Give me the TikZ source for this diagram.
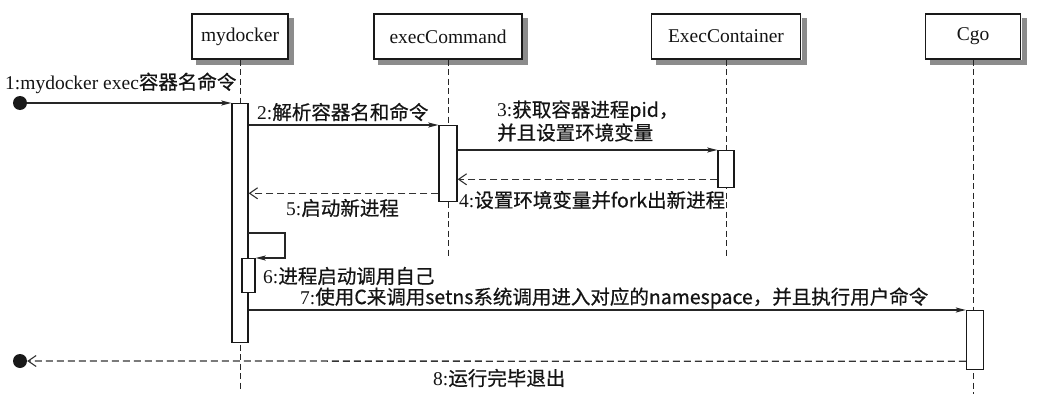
\documentclass[tikz,border=0pt]{standalone}
\usepackage{fontspec}
\setmainfont{Liberation Serif}
\newfontfamily\cjk[FakeBold=0.6]{Noto Sans CJK SC}
\usetikzlibrary{arrows.meta}
\newcommand\msgtxt[2]{#1:{\cjk #2}}
\begin{document}
\begin{tikzpicture}[x=1pt,y=-1pt,
  font=\fontsize{19.5}{23}\selectfont,
  every node/.append style={text=black!92},
  actor/.style={draw=black!90, line width=1.3pt, fill=white, minimum height=45pt, inner sep=0pt},
  boxshadow/.style={draw=black!45, line width=5pt, miter limit=10},
  life/.style={draw=black!85, line width=1pt, dash pattern=on 6pt off 3.5pt},
  act/.style={draw=black!90, line width=1.3pt, fill=white, minimum width=16pt, inner sep=0pt, anchor=north},
  msg/.style={draw=black!85, line width=1.3pt, -{Stealth[length=10pt,width=5pt,inset=2pt]}},
  ret/.style={draw=black!80, line width=1.3pt, dash pattern=on 7pt off 4pt, -{Straight Barb[length=8pt,width=11pt,line width=1.1pt]}},
  dot/.style={circle, fill=black!90, minimum size=14pt, inner sep=0pt},
  lab/.style={anchor=west, inner sep=0pt}
]
\useasboundingbox (0,0) rectangle (1050,412);

% actors
\node[actor, minimum width=96pt] (b1) at (240,36.5) {mydocker};
\node[actor, minimum width=148pt] (b2) at (448,36.5) {execCommand};
\node[actor, minimum width=149pt] (b3) at (726,36.5) {ExecContainer};
\node[actor, minimum width=95pt] (b4) at (973,36.5) {Cgo};

% shadows: right and bottom strips of each actor box
\draw[boxshadow] ([xshift=3.2pt,yshift=-5pt]b1.north east) |- ([xshift=5pt,yshift=-3.2pt]b1.south west);
\draw[boxshadow] ([xshift=3.2pt,yshift=-5pt]b2.north east) |- ([xshift=5pt,yshift=-3.2pt]b2.south west);
\draw[boxshadow] ([xshift=3.2pt,yshift=-5pt]b3.north east) |- ([xshift=5pt,yshift=-3.2pt]b3.south west);
\draw[boxshadow] ([xshift=3.2pt,yshift=-5pt]b4.north east) |- ([xshift=5pt,yshift=-3.2pt]b4.south west);

% lifeline ends
\coordinate (e1) at (240,390);
\coordinate (e2) at (448,258);
\coordinate (e3) at (726,258);
\coordinate (e4) at (973,394);
\draw[life] (b1.south) -- (e1);
\draw[life] (b2.south) -- (e2);
\draw[life] (b3.south) -- (e3);
\draw[life] (b4.south) -- (e4);

% activations
\node[act, minimum height=239pt] (a1) at (240,103) {};
\node[act, minimum height=76pt, minimum width=18pt] (a2) at (448,125) {};
\node[act, minimum height=37pt] (a3) at (726,150) {};
\node[act, minimum height=34pt, minimum width=13pt] (a4) at (248.5,258) {};
\node[act, minimum height=59pt, minimum width=17pt] (a5) at (975,310) {};

% start / end dots
\node[dot] (start) at (20,103) {};
\node[dot] (stop) at (20,361) {};

% messages
\draw[msg] (start) -- (a1.north west);
\node[lab] (l1) at (5,83) {1:mydocker exec{\cjk 容器名命令}};

\draw[msg] (a1.east |- a2.north) -- (a2.north west);
\node[lab] (l2) at (257,112) {\msgtxt{2}{解析容器名和命令}};

\draw[msg] (a2.east |- a3.north) -- (a3.north west);
\node[lab, align=left] (l3) at (497,121) {\msgtxt{3}{获取容器进程pid，}\\{\cjk 并且设置环境变量}};

\draw[ret] ([yshift=9pt]a3.south west) -- ([yshift=9pt]a3.south west -| a2.east);
\node[lab] (l4) at (459,200) {\msgtxt{4}{设置环境变量并fork出新进程}};

\draw[ret] ([yshift=9pt]a2.south west) -- ([yshift=9pt]a2.south west -| a1.east);
\node[lab] (l5) at (286,208) {\msgtxt{5}{启动新进程}};

\coordinate (s6) at (248,233);
\draw[msg] (s6) -- ++(37,0) |- (a4.north east);
\node[lab] (l6) at (263,276) {\msgtxt{6}{进程启动调用自己}};

\draw[msg] (a1.east |- a5.north) -- (a5.north west);
\node[lab] (l7) at (300,298) {\msgtxt{7}{使用C来调用setns系统调用进入对应的namespace，并且执行用户命令}};

\draw[ret] ([yshift=9pt]a5.south west) -- (stop);
\node[lab] (l8) at (433,378) {\msgtxt{8}{运行完毕退出}};
\end{tikzpicture}
\end{document}
